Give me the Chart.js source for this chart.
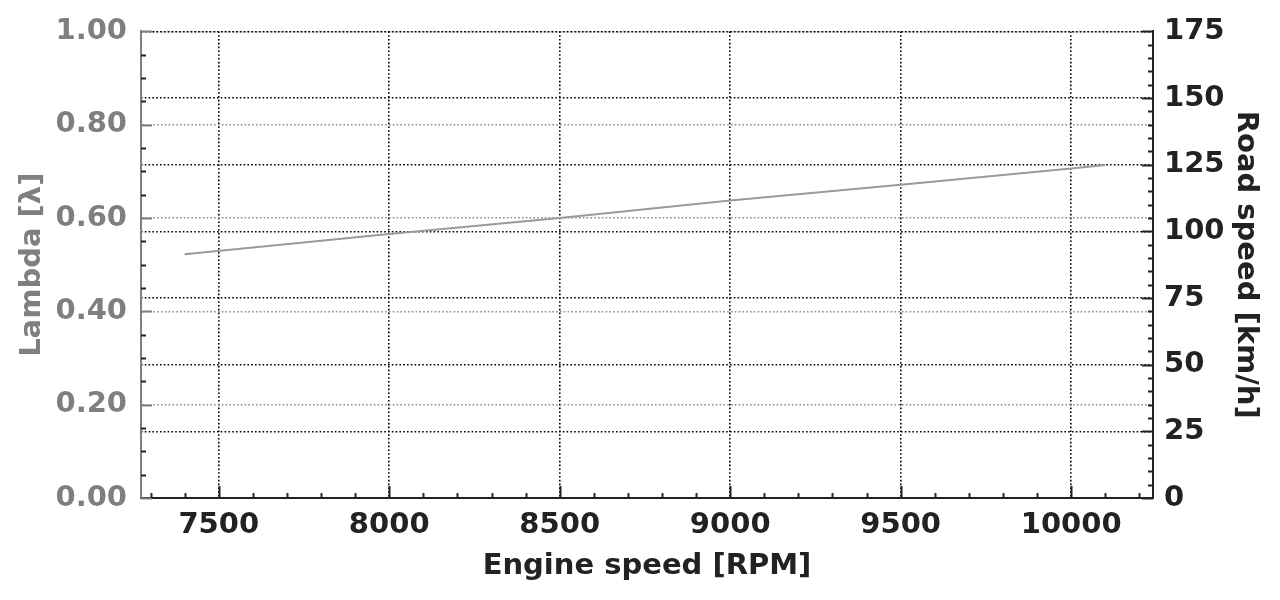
<!DOCTYPE html>
<html>
<head>
<meta charset="utf-8">
<script src="https://cdn.jsdelivr.net/npm/chart.js@4/dist/chart.umd.min.js"></script>
<style>
  html, body { margin: 0; padding: 0; background: #fff; }
  #wrap { width: 1280px; height: 600px; }
</style>
</head>
<body>
<div id="wrap"><canvas id="chart" width="1280" height="600"></canvas></div>
<script>
// --- data ---
const rpm        = [7400, 8000, 8500, 9000, 9500, 10000, 10100];
const roadSpeed  = [91.4, 99.0, 105.0, 111.6, 117.5, 123.6, 124.9];

const xTicks     = [7500, 8000, 8500, 9000, 9500, 10000];
const xMinor     = [7300, 7400, 7600, 7700, 7800, 7900, 8100, 8200, 8300, 8400,
                    8600, 8700, 8800, 8900, 9100, 9200, 9300, 9400, 9600, 9700,
                    9800, 9900, 10100, 10200];
const lambdaTicks = [0, 0.2, 0.4, 0.6, 0.8, 1.0];
const lambdaMinor = [0.05, 0.1, 0.15, 0.25, 0.3, 0.35, 0.45, 0.5, 0.55,
                     0.65, 0.7, 0.75, 0.85, 0.9, 0.95];
const speedTicks  = [0, 25, 50, 75, 100, 125, 150, 175];
const speedMinor  = [5, 10, 15, 20, 30, 35, 40, 45, 55, 60, 65, 70, 80, 85, 90, 95,
                     105, 110, 115, 120, 130, 135, 140, 145, 155, 160, 165, 170];

const GRAY = "#7f7f7f";
const DARK = "#222222";
const FONT = "'DejaVu Sans', sans-serif";
const fnt = { family: FONT, size: 29, weight: "bold" };
const DOTS = [1.6, 2.2];

// inward tick marks (major + minor), drawn on top
const innerTicks = {
  id: "innerTicks",
  afterDraw(chart) {
    const { ctx, chartArea: a, scales } = chart;
    ctx.save();
    ctx.lineWidth = 2;
    function hTick(sc, v, x0, len, col) {
      const y = Math.round(sc.getPixelForValue(v)) + 0.5;
      ctx.strokeStyle = col;
      ctx.beginPath(); ctx.moveTo(x0, y); ctx.lineTo(x0 + len, y); ctx.stroke();
    }
    lambdaTicks.forEach(v => hTick(scales.y, v, a.left, 11, GRAY));
    lambdaMinor.forEach(v => hTick(scales.y, v, a.left, 5, DARK));
    speedTicks.forEach(v => hTick(scales.y2, v, a.right, -11, DARK));
    speedMinor.forEach(v => hTick(scales.y2, v, a.right, -5, DARK));
    function vTick(v, len) {
      const x = Math.round(scales.x.getPixelForValue(v)) + 0.5;
      ctx.strokeStyle = DARK;
      ctx.beginPath(); ctx.moveTo(x, a.bottom); ctx.lineTo(x, a.bottom - len); ctx.stroke();
    }
    xTicks.forEach(v => vTick(v, 12));
    xMinor.forEach(v => vTick(v, 5));
    ctx.restore();
  }
};

new Chart(document.getElementById("chart"), {
  type: "line",
  data: {
    datasets: [{
      label: "Road speed",
      data: rpm.map((r, i) => ({ x: r, y: roadSpeed[i] })),
      yAxisID: "y2",
      borderColor: "#9a9a9a",
      borderWidth: 2,
      pointRadius: 0,
      tension: 0
    }]
  },
  options: {
    responsive: false,
    animation: false,
    devicePixelRatio: 1,
    layout: { padding: { top: 30, left: 0, right: 0, bottom: 0 } },
    plugins: { legend: { display: false }, tooltip: { enabled: false } },
    scales: {
      x: {
        type: "linear",
        min: 7272,
        max: 10240,
        afterBuildTicks: s => { s.ticks = xTicks.map(v => ({ value: v })); },
        afterFit: s => { s.height = 102; },
        ticks: { color: DARK, font: fnt, padding: 10, maxRotation: 0,
                 callback: v => String(v) },
        grid: { color: "#000", lineWidth: 1.6, drawTicks: false },
        border: { display: true, color: DARK, width: 2, dash: DOTS },
        title: { display: true, text: "Engine speed [RPM]", color: DARK, font: fnt,
                 padding: { top: 0, bottom: 16 } }
      },
      y: {
        position: "left",
        min: 0,
        max: 1,
        afterBuildTicks: s => { s.ticks = lambdaTicks.map(v => ({ value: v })); },
        afterFit: s => { s.width = 141; },
        ticks: { color: GRAY, font: fnt, padding: 14, callback: v => v.toFixed(2) },
        grid: { color: "#8c8c8c", lineWidth: 1.5, drawTicks: false },
        border: { display: true, color: GRAY, width: 2, dash: DOTS },
        title: { display: true, text: "Lambda [λ]", color: GRAY, font: fnt,
                 padding: { top: 15, bottom: 0 } }
      },
      y2: {
        position: "right",
        min: 0,
        max: 175,
        afterBuildTicks: s => { s.ticks = speedTicks.map(v => ({ value: v })); },
        afterFit: s => { s.width = 127; },
        ticks: { color: DARK, font: fnt, padding: 11 },
        grid: { color: "#000", lineWidth: 1.6, drawTicks: false },
        border: { display: true, color: DARK, width: 2, dash: DOTS },
        title: { display: true, text: "Road speed [km/h]", color: DARK, font: fnt,
                 padding: { top: 17, bottom: 0 } }
      }
    }
  },
  plugins: [innerTicks]
});
</script>
</body>
</html>
